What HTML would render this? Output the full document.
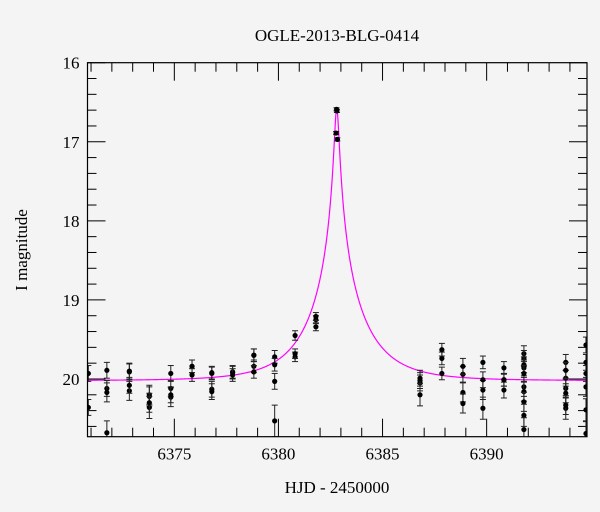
<!DOCTYPE html>
<html><head><meta charset="utf-8"><style>
html,body{margin:0;padding:0;background:#f4f4f4;}
svg{display:block;font-family:"Liberation Serif",serif;}
</style></head><body>
<svg id="chart" width="600" height="512" viewBox="0 0 600 512" xmlns="http://www.w3.org/2000/svg">
<rect width="600" height="512" fill="#f4f4f4"/>
<text x="337" y="41" text-anchor="middle" font-size="17">OGLE-2013-BLG-0414</text>
<text transform="translate(27,250) rotate(-90)" text-anchor="middle" font-size="17">I magnitude</text>
<text x="337" y="493" text-anchor="middle" font-size="17">HJD - 2450000</text>
<defs><clipPath id="pc"><rect x="87.5" y="62.7" width="499.5" height="374"/></clipPath></defs>
<g id="ticks"></g>
<g id="plot" clip-path="url(#pc)"></g>
<rect x="87.5" y="62.7" width="499.5" height="374" fill="none" stroke="#000" stroke-width="1.2"/>
</svg>
<script>
const xTicks=[6375,6380,6385,6390];
const yTicks=[16,17,18,19,20];
const times=[6370.87,6370.87,6371.76,6371.76,6371.76,6371.76,6372.84,6372.84,6372.84,6372.84,6373.8,6373.8,6373.8,6373.8,6374.83,6374.83,6374.83,6374.83,6375.85,6375.85,6375.85,6376.8,6376.8,6376.8,6376.8,6377.8,6377.8,6377.8,6378.82,6378.82,6378.82,6378.82,6379.82,6379.82,6379.82,6379.82,6380.8,6380.8,6380.8,6381.8,6381.8,6381.8,6382.77,6382.79,6382.81,6382.83,6386.8,6386.8,6386.8,6386.8,6387.85,6387.85,6387.85,6388.86,6388.86,6388.86,6388.86,6389.82,6389.82,6389.82,6389.82,6390.83,6390.83,6390.83,6390.83,6391.79,6391.79,6391.79,6391.79,6391.79,6391.79,6391.79,6391.79,6391.79,6391.79,6393.8,6393.8,6393.8,6393.8,6393.8,6393.8,6393.8,6394.77,6394.77,6394.77,6394.77,6394.77,6394.77];
const mags=[19.93,20.36,19.89,20.12,20.17,20.68,20.15,20.08,19.91,19.9,20.2,20.22,20.36,20.3,20.23,20.12,20.2,19.93,19.84,19.84,19.95,20.13,20.16,19.93,19.92,19.91,19.92,19.95,19.7,19.7,19.84,19.91,20.53,20.03,19.72,19.82,19.72,19.68,19.45,19.34,19.25,19.21,16.89,16.59,16.61,16.97,20.02,20.05,20.2,19.99,19.93,19.74,19.63,20.17,20.31,19.94,19.84,20.14,20.37,20.01,19.79,19.86,20.01,20.14,20.01,19.68,19.74,19.86,19.82,20.1,20.16,20.29,20.46,20.64,19.93,19.99,20.12,19.79,19.89,20.37,20.18,20.33,19.57,19.79,20.1,20.39,20.69,19.93];
const errs=[0.1,0.1,0.1,0.1,0.12,0.15,0.12,0.1,0.1,0.1,0.12,0.12,0.14,0.12,0.12,0.1,0.1,0.1,0.08,0.08,0.08,0.1,0.1,0.08,0.08,0.08,0.08,0.08,0.08,0.08,0.08,0.08,0.2,0.1,0.08,0.08,0.06,0.06,0.06,0.05,0.05,0.05,0.02,0.02,0.02,0.02,0.1,0.1,0.14,0.1,0.08,0.08,0.08,0.12,0.12,0.1,0.1,0.12,0.14,0.1,0.08,0.08,0.08,0.1,0.08,0.1,0.1,0.1,0.1,0.12,0.12,0.12,0.14,0.15,0.1,0.1,0.12,0.1,0.1,0.14,0.12,0.12,0.1,0.1,0.12,0.14,0.15,0.1];
const model={t0:6382.8,u0:0.042,tE:2.55,base:20.02};
const X0=6370.83,X1=6394.82,Y0=16,Y1=20.73;
const L=87.5,R=587,T=62.7,B=436.7;
const sx=t=>L+(t-X0)/(X1-X0)*(R-L);
const sy=m=>T+(m-Y0)/(Y1-Y0)*(B-T);
const NS="http://www.w3.org/2000/svg";
function mk(tag,attrs,parent){const e=document.createElementNS(NS,tag);for(const k in attrs)e.setAttribute(k,attrs[k]);parent.appendChild(e);return e;}
const tg=document.getElementById('ticks'),pg=document.getElementById('plot');
const svg=document.getElementById('chart');
// x minor/major ticks
for(let d=Math.ceil(X0);d<=X1;d++){const x=sx(d);const maj=d%5===0;const len=maj?18:9;
 const t1=mk('line',{x1:x,x2:x,y1:B,y2:B-len,stroke:'#000','stroke-width':1},tg);
 
 
 const t2=mk('line',{x1:x,x2:x,y1:T,y2:T+len,stroke:'#000','stroke-width':1},tg);
 
 }
for(let i=0;i<=23;i++){const m=16+i*0.2;const y=sy(m);const maj=i%5===0;const len=maj?18:9;
 const t1=mk('line',{x1:L,x2:L+len,y1:y,y2:y,stroke:'#000','stroke-width':1},tg);
 
 
 const t2=mk('line',{x1:R,x2:R-len,y1:y,y2:y,stroke:'#000','stroke-width':1},tg);
 
 }
xTicks.forEach(v=>{const t=mk('text',{x:sx(v),y:B+23,'text-anchor':'middle','font-size':17},svg);t.textContent=v;
 
 });
yTicks.forEach(v=>{const t=mk('text',{x:L-8,y:sy(v)+6,'text-anchor':'end','font-size':17},svg);t.textContent=v;
 
 });
// model curve
function magAt(t){const tau=(t-model.t0)/model.tE;const u=Math.sqrt(tau*tau+model.u0*model.u0);const A=(u*u+2)/(u*Math.sqrt(u*u+4));return model.base-2.5*Math.log10(A);}
let d='';for(let i=0;i<=2000;i++){const t=X0+(X1-X0)*i/2000;d+=(i?'L':'M')+sx(t).toFixed(2)+','+sy(magAt(t)).toFixed(2);}
const p=mk('path',{d:d,fill:'none',stroke:'#ff00ff','stroke-width':1.2},pg);


// data
times.forEach((t,i)=>{const x=sx(t),y=sy(mags[i]),y1=sy(mags[i]-errs[i]),y2=sy(mags[i]+errs[i]);
 const g=mk('g',{},pg);
 
 
 mk('line',{x1:x,x2:x,y1:y1,y2:y2,stroke:'#222','stroke-width':1},g);
 mk('line',{x1:x-3,x2:x+3,y1:y1,y2:y1,stroke:'#222','stroke-width':1},g);
 mk('line',{x1:x-3,x2:x+3,y1:y2,y2:y2,stroke:'#222','stroke-width':1},g);
 mk('circle',{cx:x,cy:y,r:2.6,fill:'#000'},g);});
</script>
</body></html>
